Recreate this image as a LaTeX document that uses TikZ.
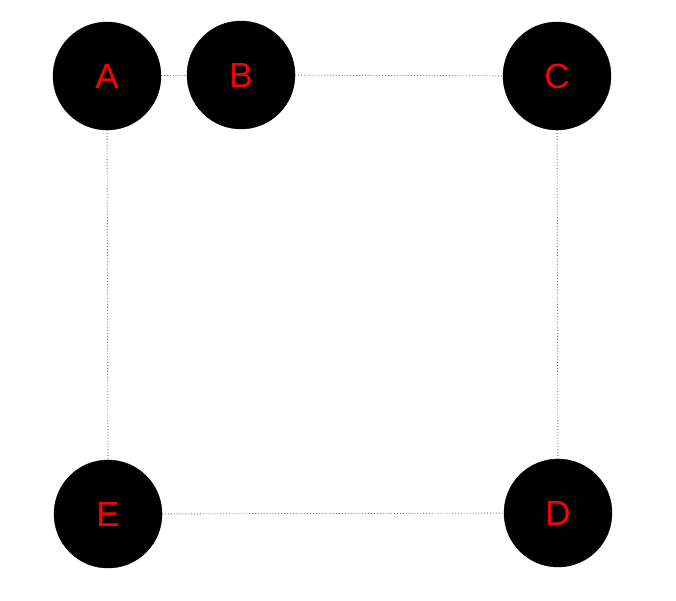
\documentclass[tikz,border=0pt]{standalone}
\usepackage{fontspec}
\setmainfont{Liberation Sans}
\begin{document}
\begin{tikzpicture}[x=1pt,y=-1pt,
  vert/.style={circle,fill=black,draw=black,minimum size=108pt,inner sep=0pt,
    text=red,font=\fontsize{35}{38}\selectfont},
  link/.style={draw=black!55,line width=0.9pt,dotted}]
\useasboundingbox (0,0) rectangle (676,600);
\node[vert] (A) at (107,76) {A};
\node[vert] (B) at (241,75) {B};
\node[vert] (C) at (557,76) {C};
\node[vert] (E) at (108,514) {E};
\node[vert] (D) at (558,513) {D};
\draw[link] (A) -- (B);
\draw[link] (B) -- (C);
\draw[link] (A) -- (E);
\draw[link] (C) -- (D);
\draw[link] (E) -- (D);
\end{tikzpicture}
\end{document}
